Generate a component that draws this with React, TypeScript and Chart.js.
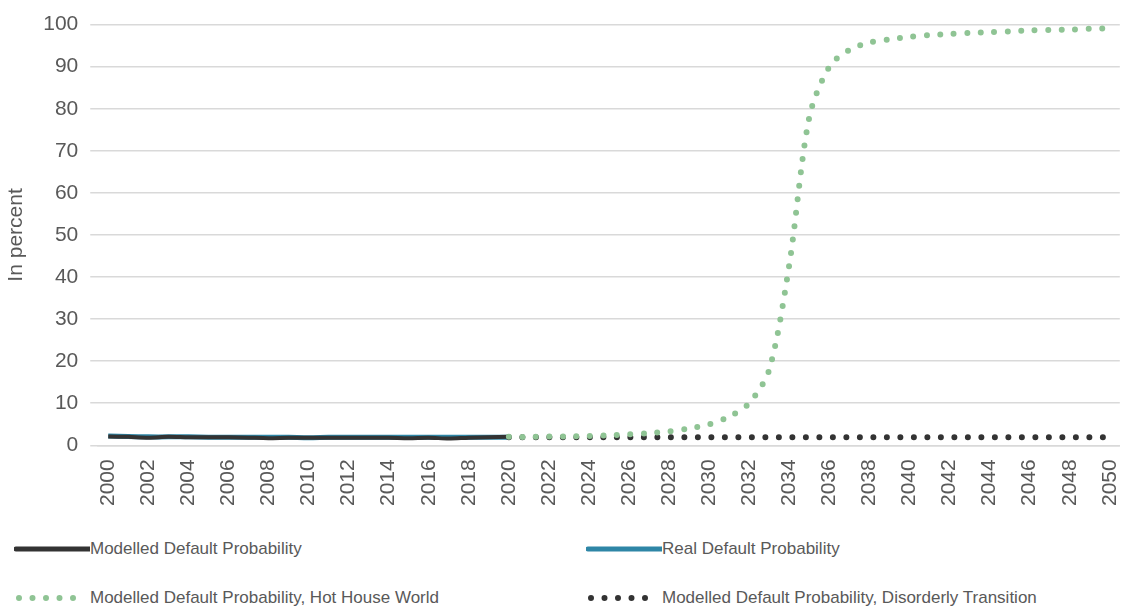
import React, { useEffect, useRef } from "react";
import { Chart, registerables } from "chart.js";
Chart.register(...registerables);

const years = Array.from({ length: 51 }, (_, i) => String(2000 + i));
const modelled = [2.1,2.0,1.8,2.0,1.9,1.9,1.9,1.8,1.7,1.8,1.8,1.8,1.8,1.8,1.8,1.7,1.8,1.6,1.8,1.9,2.0];
const real = [2.2,2.1,2.0,2.0,2.0,1.9,1.9,1.9,1.9,1.9,1.8,1.9,1.9,1.9,1.9,1.9,1.9,1.9,1.9,1.9,1.9];
const hotHouse = [null,null,null,null,null,null,null,null,null,null,null,null,null,null,null,null,null,null,null,null,
  2.0,2.0,2.1,2.1,2.2,2.4,2.6,2.9,3.3,4.0,5.0,6.8,10,18,43,78,90,94,95.7,96.5,97.1,97.5,97.8,98.0,98.2,98.4,98.6,98.7,98.8,99.0,99.1];
const disorderly = [null,null,null,null,null,null,null,null,null,null,null,null,null,null,null,null,null,null,null,null,
  1.9,1.9,1.9,1.9,1.9,1.9,1.9,1.9,1.9,1.9,1.9,1.9,1.9,1.9,1.9,1.9,1.9,1.9,1.9,1.9,1.9,1.9,1.9,1.9,1.9,1.9,1.9,1.9,1.9,1.9,1.9];

const FONT = "'Liberation Sans', Arial, sans-serif";

export default function App() {
  const ref = useRef<HTMLCanvasElement>(null);
  useEffect(() => {
    document.body.style.margin = "0";
    const c = new Chart(ref.current!, {
      type: "line",
      data: {
        labels: years,
        datasets: [
          { data: hotHouse, borderColor: "#8fc494", borderWidth: 6, borderDash: [0, 13.5], borderCapStyle: "round", pointRadius: 0, tension: 0.3 },
          { data: disorderly, borderColor: "#333333", borderWidth: 6, borderDash: [0, 13.5], borderCapStyle: "round", pointRadius: 0 },
          { data: modelled, borderColor: "#333333", borderWidth: 4, pointRadius: 0, tension: 0.3 },
          { data: real, borderColor: "#2e86a6", borderWidth: 5, pointRadius: 0, tension: 0.3 },
        ] as any,
      },
      options: {
        animation: false,
        responsive: false,
        layout: { padding: { top: 2, right: 0, left: 2 } },
        plugins: { legend: { display: false }, tooltip: { enabled: false } },
        scales: {
          x: {
            offset: true,
            grid: { display: false, offset: true },
            border: { color: "#d9d9d9", width: 1.5 },
            ticks: { color: "#595959", font: { family: FONT, size: 21 }, minRotation: 90, maxRotation: 90, autoSkip: false, padding: 6,
              callback: (_v: any, i: number) => (i % 2 === 0 ? years[i] : "") },
          },
          y: {
            min: 0, max: 100,
            grid: { color: "#d9d9d9", lineWidth: 1.5 },
            border: { display: false },
            ticks: { stepSize: 10, color: "#595959", font: { family: FONT, size: 21 }, padding: 12 },
            title: { display: true, text: "In percent", color: "#595959", font: { family: FONT, size: 21 }, padding: 2 },
          },
        },
      },
    });
    return () => c.destroy();
  }, []);
  const item = (label: string, color: string, dotted: boolean, left: number, top: number) => (
    <div style={{ position: "absolute", left, top, display: "flex", alignItems: "center", font: `17px ${FONT}`, color: "#595959" }}>
      <svg width="76" height="10">
        {dotted ? (
          <line x1="5" y1="5" x2="62" y2="5" stroke={color} strokeWidth="6" strokeDasharray="0 13.5" strokeLinecap="round" />
        ) : (
          <line x1="2" y1="5" x2="76" y2="5" stroke={color} strokeWidth="5" strokeLinecap="round" />
        )}
      </svg>
      <span>{label}</span>
    </div>
  );
  return (
    <div style={{ position: "relative", width: 1141, height: 609 }}>
      <canvas ref={ref} width={1141} height={512} />
      {item("Modelled Default Probability", "#333333", false, 14, 539)}
      {item("Real Default Probability", "#2e86a6", false, 586, 539)}
      {item("Modelled Default Probability, Hot House World", "#8fc494", true, 14, 588)}
      {item("Modelled Default Probability, Disorderly Transition", "#333333", true, 586, 588)}
    </div>
  );
}
